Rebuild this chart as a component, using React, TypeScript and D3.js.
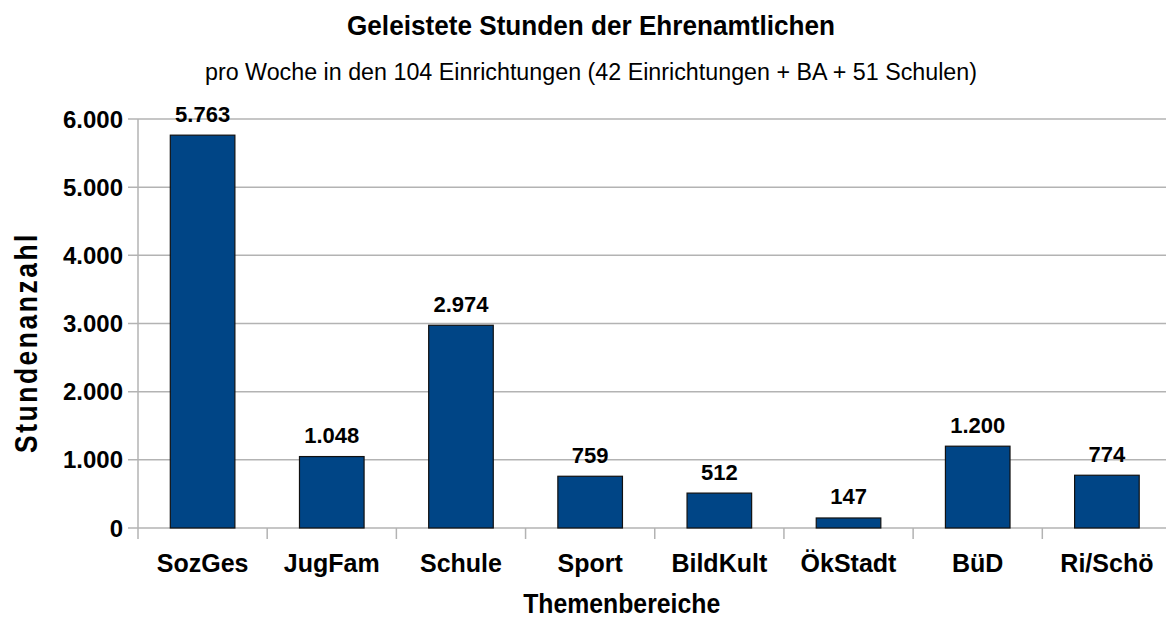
import React from "react";
import * as d3 from "d3";

const categories = ["SozGes", "JugFam", "Schule", "Sport", "BildKult", "ÖkStadt", "BüD", "Ri/Schö"];
const hours = [5763, 1048, 2974, 759, 512, 147, 1200, 774];
const yTicks = [0, 1000, 2000, 3000, 4000, 5000, 6000];
const titleText = "Geleistete Stunden der Ehrenamtlichen";
const subtitleText = "pro Woche in den 104 Einrichtungen (42 Einrichtungen + BA + 51 Schulen)";
const yTitle = "Stundenanzahl";
const xTitle = "Themenbereiche";

const W = 1166;
const H = 628;
const FONT = "'Liberation Sans', Arial, Helvetica, sans-serif";
const fmt = (v: number) => d3.format(",")(v).replace(/,/g, ".");

export default function App() {
  const x = d3.scaleBand<string>().domain(categories).range([138, 1171.5]).paddingInner(0.5).paddingOuter(0.25);
  const band = d3.scaleBand<string>().domain(categories).range([138, 1171.5]).padding(0);
  const y = d3.scaleLinear().domain([0, 6000]).range([528, 119]);
  const grid = "#b3b3b3";
  const boundaries = categories.map((c) => band(c) as number).concat([1171.5]);

  return (
    <svg width={W} height={H} style={{ position: "absolute", left: 0, top: 0, background: "#fff" }} fontFamily={FONT}>
      <rect x={0} y={0} width={W} height={H} fill="#fff" />
      <text x={591} y={35} textAnchor="middle" fontSize={27} fontWeight="bold" textLength={488} lengthAdjust="spacingAndGlyphs">
        {titleText}
      </text>
      <text x={591} y={80} textAnchor="middle" fontSize={23} textLength={772} lengthAdjust="spacingAndGlyphs">
        {subtitleText}
      </text>

      {yTicks.map((t) => (
        <g key={t}>
          <line x1={128} x2={1171.5} y1={y(t)} y2={y(t)} stroke={grid} strokeWidth={1.5} />
          <text x={123} y={y(t) + 8.5} textAnchor="end" fontSize={24} fontWeight="bold">
            {fmt(t)}
          </text>
        </g>
      ))}
      <line x1={138} x2={138} y1={119} y2={528} stroke={grid} strokeWidth={1.5} />
      {boundaries.map((b, i) => (
        <line key={i} x1={b} x2={b} y1={528} y2={539} stroke={grid} strokeWidth={1.5} />
      ))}

      {categories.map((c, i) => {
        const bx = x(c) as number;
        const bw = x.bandwidth();
        const cx = (band(c) as number) + band.bandwidth() / 2;
        return (
          <g key={c}>
            <rect x={bx} y={y(hours[i])} width={bw} height={y(0) - y(hours[i])} fill="#004586" stroke="#111" strokeWidth={1.2} />
            <text x={cx} y={y(hours[i]) - 13.5} textAnchor="middle" fontSize={22} fontWeight="bold">
              {fmt(hours[i])}
            </text>
            <text x={cx} y={572} textAnchor="middle" fontSize={25} fontWeight="bold">
              {c}
            </text>
          </g>
        );
      })}

      <text x={621.7} y={613} textAnchor="middle" fontSize={27} fontWeight="bold" textLength={197} lengthAdjust="spacingAndGlyphs">
        {xTitle}
      </text>
      <text
        transform={`translate(36.5,342.5) rotate(-90)`}
        x={0}
        y={0}
        textAnchor="middle"
        fontSize={31}
        fontWeight="bold"
        letterSpacing={3}
        textLength={221}
        lengthAdjust="spacingAndGlyphs"
      >
        {yTitle}
      </text>
    </svg>
  );
}
